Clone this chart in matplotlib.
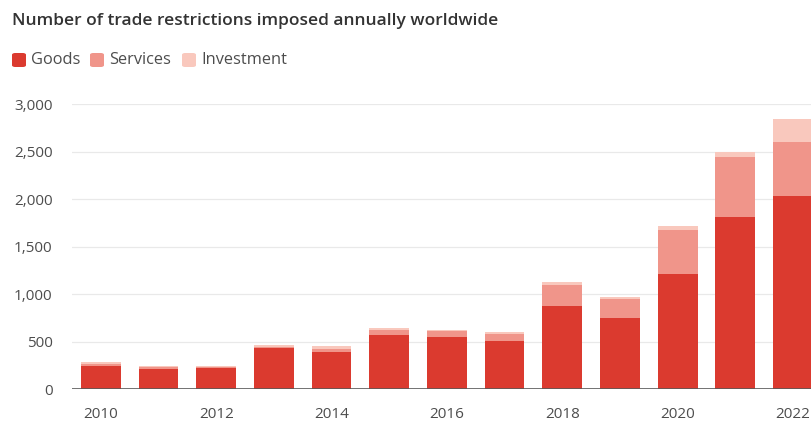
import matplotlib
matplotlib.use("Agg")
import matplotlib.pyplot as plt
from matplotlib.patches import FancyBboxPatch
import numpy as np

years = [2010, 2011, 2012, 2013, 2014, 2015, 2016, 2017, 2018, 2019, 2020, 2021, 2022]
goods = [245, 215, 220, 430, 390, 575, 550, 510, 875, 750, 1215, 1815, 2035]
services = [22, 15, 15, 20, 35, 45, 60, 70, 220, 200, 460, 630, 570]
investment = [23, 15, 15, 15, 30, 30, 15, 20, 35, 25, 40, 50, 240]
yticks = [0, 500, 1000, 1500, 2000, 2500, 3000]
ytick_labels = ["0", "500", "1,000", "1,500", "2,000", "2,500", "3,000"]
xticks = [2010, 2012, 2014, 2016, 2018, 2020, 2022]

title = "Number of trade restrictions imposed annually worldwide"
series_names = ["Goods", "Services", "Investment"]
colors = ["#db3a2f", "#f0958a", "#f9c8bd"]

plt.rcParams['font.family'] = ['Open Sans', 'DejaVu Sans']

W, H = 812, 425
fig = plt.figure(figsize=(W / 100, H / 100), dpi=100)
ax = fig.add_axes([72 / W, (H - 389.3) / H, 1 - 72 / W, (389.3 - 104.3) / H])

x = np.array(years, dtype=float)
g = np.array(goods, dtype=float)
s = np.array(services, dtype=float)
inv = np.array(investment, dtype=float)
bw = 0.69
ax.bar(x, g, width=bw, color=colors[0], linewidth=0, zorder=3)
ax.bar(x, s, width=bw, bottom=g, color=colors[1], linewidth=0, zorder=3)
ax.bar(x, inv, width=bw, bottom=g + s, color=colors[2], linewidth=0, zorder=3)

ax.set_xlim(2009.5, 2022.33)
ax.set_ylim(0, 3000)
ax.set_yticks(yticks)
ax.set_yticklabels(ytick_labels)
ax.set_xticks(xticks)
ax.set_xticklabels([str(v) for v in xticks])
ax.tick_params(axis="both", length=0, labelsize=11, colors="#4d4d4d")
ax.tick_params(axis="y", pad=14)
ax.tick_params(axis="x", pad=13)
for sp in ax.spines.values():
    sp.set_visible(False)
ax.grid(axis="y", color="#e9e9e9", linewidth=0.9, zorder=0)
ax.axhline(0, color="#5a5a5a", linewidth=1.2, zorder=4)

fig.text(12 / W, 1 - 21 / H, title, fontsize=12.5, fontweight="semibold", color="#333333",
         va="center", ha="left")

# legend
lx = [12, 90, 182]
for i, name in enumerate(series_names):
    box = FancyBboxPatch((lx[i] / W, 1 - 67 / H), 14 / W, 14 / H,
                         boxstyle="round,pad=0,rounding_size=0.004",
                         transform=fig.transFigure, facecolor=colors[i], edgecolor="none")
    fig.patches.append(box)
    fig.text((lx[i] + 19) / W, 1 - 60 / H, name, fontsize=11.8, color="#4d4d4d",
             va="center", ha="left")

fig.savefig("out.png", dpi=100)
